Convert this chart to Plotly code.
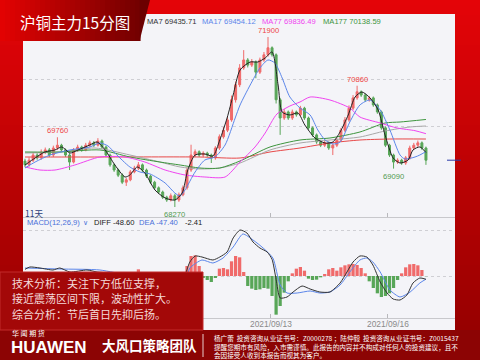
import plotly.graph_objects as go

# ---------------- data ----------------
bar_idx = list(range(100))
open_ = [69250,69170,69270,69380,69320,69440,69490,69380,69530,69590,
         69490,69380,69230,69490,69550,69490,69590,69640,69590,69680,
         69550,69380,69170,69060,68950,68800,68850,69020,69100,69170,
         69060,68930,68800,68680,68590,68480,68420,68510,68420,68530,
         68680,69060,69380,69450,69380,69420,69380,69320,69530,69770,
         69910,70130,70560,70880,71240,71410,71300,71370,71150,71410,
         71520,71670,71520,70560,70170,70300,70170,70300,70240,70380,
         70170,69960,69810,69660,69590,69640,69530,69590,69700,69910,
         70130,70380,70600,70730,70660,70560,70600,70450,70300,69960,
         69590,69380,69230,69270,69210,69320,69530,69590,69640,69530]
high = [69300,69330,69430,69420,69500,69540,69530,69580,69760,69620,
        69520,69420,69530,69600,69580,69640,69690,69680,69740,69710,
        69580,69410,69200,69090,68990,68890,69060,69150,69230,69200,
        69090,68960,68830,68710,68620,68510,68560,68550,68580,68730,
        69120,69600,69500,69480,69460,69450,69410,69570,69820,69980,
        70200,70650,70950,71320,71620,71450,71430,71400,71460,71580,
        71900,71700,71550,70600,70360,70330,70350,70330,70430,70410,
        70200,69990,69840,69690,69680,69670,69630,69740,69960,70190,
        70440,70660,70860,70760,70690,70640,70630,70480,70330,69990,
        69620,69410,69310,69300,69360,69580,69640,69690,69670,69560]
low = [69120,69130,69230,69280,69280,69400,69340,69340,69490,69450,
       69340,69060,69200,69450,69450,69460,69550,69550,69560,69510,
       69340,69130,69020,68910,68760,68720,68820,68990,69060,69020,
       68890,68760,68640,68550,68440,68380,68390,68270,68380,68500,
       68640,69020,69340,69340,69340,69340,69210,69280,69490,69730,
       69870,70090,70500,70830,71200,71250,71260,71020,71110,71370,
       71480,71480,70480,69810,70130,70130,70130,70200,70200,70130,
       69920,69770,69620,69550,69550,69490,69380,69550,69660,69870,
       70090,70340,70560,70620,70520,70520,70410,70260,69920,69550,
       69340,69090,69190,69170,69170,69280,69490,69550,69490,69170]
close = [69170,69270,69380,69320,69440,69490,69380,69530,69590,69490,
         69380,69230,69490,69550,69490,69590,69640,69590,69680,69550,
         69380,69170,69060,68950,68800,68850,69020,69100,69170,69060,
         68930,68800,68680,68590,68480,68420,68510,68420,68530,68680,
         69060,69380,69450,69380,69420,69380,69320,69530,69770,69910,
         70130,70560,70880,71240,71410,71300,71370,71150,71410,71520,
         71670,71520,70560,70170,70300,70170,70300,70240,70380,70170,
         69960,69810,69660,69590,69640,69530,69590,69700,69910,70130,
         70380,70600,70730,70660,70560,70600,70450,70300,69960,69590,
         69380,69230,69270,69210,69320,69530,69590,69640,69530,69270]

ma7_pos = [0,2.5,4.9,7.4,9.1,11.1,13.1,16.0,17.8,19.8,22.2,24.7,25.9,27.7,29.6,32.1,34.6,37.0,38.8,40.2,
           42.0,44.4,46.4,48.1,49.9,51.4,53.1,55.6,57.5,59.3,61.0,62.5,63.5,65.4,67.4,69.1,71.6,74.1,76.0,77.8,
           79.8,81.5,83.2,85.2,87.2,88.9,90.9,92.6,94.6,95.8,97.5,99]
ma7_val = [69167,69317,69445,69488,69552,69423,69488,69594,69658,69488,69167,68911,68954,69125,68996,68633,68463,68420,68569,69060,
           69381,69402,69359,69701,70171,70662,71196,71366,71366,71452,71580,70875,70299,70235,70277,70021,69744,69637,69658,69872,
           70235,70619,70726,70598,70342,69808,69317,69210,69274,69488,69552,69436]
ma17_pos = [0,2.5,6.2,11.1,16.0,18.5,20.5,22.2,25.9,28.4,30.9,34.6,37.0,38.3,39.5,42.0,44.4,46.9,49.4,51.9,
            53.1,55.6,58.0,60.0,61.7,63.5,65.4,67.9,70.4,72.3,74.1,76.0,77.8,80.2,82.7,85.2,87.7,90.1,92.6,93.8,
            96.3,97.5,99]
ma17_val = [69103,69231,69381,69488,69552,69637,69573,69423,69125,69018,68975,68783,68569,68505,68633,69018,69274,69338,69594,70171,
            70448,70875,71238,71409,71345,71025,70619,70384,70235,69915,69701,69616,69658,70085,70448,70555,70342,69915,69381,69295,
            69338,69381,69454]
ma77_pos = [0,3.7,7.4,12.3,18.5,24.7,29.6,34.6,39.5,44.4,49.4,53.1,56.8,59.3,62.2,65.4,67.9,70.4,75.3,80.2,82.7,87.7,91.9,96.3,99]
ma77_val = [69125,69060,69060,69167,69338,69338,69231,69060,68954,68911,68911,69231,69552,69850,70256,70427,70512,70619,70555,70384,
            70192,70064,69957,69900,69836]
ma177_pos = [0,8.6,18.5,25.9,33.3,38.3,43.2,48.1,53.1,60.5,67.9,75.3,82.7,88.9,92.6,99]
ma177_val = [69445,69445,69488,69338,69231,69167,69103,69103,69253,69552,69701,69744,69872,70064,70085,70139]
gray_pos = [0,8.6,17.3,25.9,33.3,38.3,43.2,48.1,53.1,60.5,67.9,75.3,82.7,88.9,95.1,99]
gray_val = [69423,69445,69530,69381,69231,69125,69082,69103,69210,69488,69637,69701,69765,69893,69979,70000]
red_pos = [0,18.5,43.2,53.1,60.5,67.9,75.3,82.7,90.1,99]
red_val = [69338,69338,69338,69317,69445,69530,69637,69701,69722,69722]

macd_hist = [20,30,10,-10,-20,10,20,30,40,20,
             -10,-30,-10,10,20,30,20,10,30,10,
             -20,-50,-80,-100,-110,-90,-60,-20,100,60,
             -40,-70,-100,-120,-110,-90,-60,-40,-20,60,
             150,300,310,150,-30,-60,-90,-30,110,120,
             100,220,300,280,60,-150,-190,-210,-200,-180,
             -190,-300,-580,-450,-250,-80,40,110,135,80,
             -40,-60,-55,-20,30,100,120,80,130,160,
             175,180,165,120,40,-80,-180,-260,-315,-300,
             -260,-180,-60,40,130,175,180,160,90,-2.41]
diff_pos = [0,1.2,3.7,6.9,8.6,11.1,15.3,17.8,20.2,23.5,27.2,30.9,34.6,37.8,38.8,39.8,40.7,42.0,43.7,46.4,
            48.1,49.9,51.4,53.1,54.8,56.3,58.0,59.8,61.0,62.0,63.0,64.7,66.2,68.4,70.4,72.8,75.3,77.8,79.5,81.0,
            82.7,84.4,85.9,87.7,89.4,90.9,92.6,94.3,95.8,97.5,99]
diff_val = [100,135,120,90,120,60,90,60,45,-60,-100,-180,-250,-230,-120,60,210,300,285,240,
            285,360,570,690,645,510,420,360,250,-50,-330,-315,-240,-150,-195,-240,-240,-105,60,210,
            300,285,165,-90,-255,-345,-360,-285,-105,-30,-48.6]
dea_pos = [0,8.6,18.5,25.9,33.3,38.3,39.8,40.7,43.7,46.4,48.9,51.4,53.8,56.3,58.8,61.2,63.0,64.7,67.2,70.4,
           72.8,75.3,77.8,80.2,82.7,84.4,85.9,87.7,90.1,92.6,95.1,97.5,99]
dea_val = [120,105,90,0,-150,-160,-40,120,240,195,270,435,630,540,420,270,-135,-255,-255,-225,
           -255,-240,-135,60,240,270,210,60,-210,-315,-240,-105,-47.4]

tick_pos = [60.7, 89.6]
tick_text = ["2021/09/13", "2021/09/16"]

legend_names = ["MA7", "MA17", "MA77", "MA177"]
legend_values = [69435.71, 69454.12, 69836.49, 70138.59]
macd_names = ["DIFF", "DEA"]
macd_values = [-48.60, -47.40, -2.41]

mark_idx = [60, 82, 8, 37, 91]
mark_val = [71900, 70860, 69760, 68270, 69090]
mark_kind = ["high", "high", "high", "low", "low"]

title_text = "沪铜主力15分图"
analysis_lines = ["技术分析：关注下方低位支撑，",
                  "接近震荡区间下限，波动性扩大。",
                  "综合分析：节后首日先抑后扬。"]
footer_lines = ["杨广蕾  投资咨询从业证书号：Z0000278 ；陆仲毅  投资咨询从业证书号：Z0015437",
                "提醒您期市有风险，入市需谨慎。此报告的内容并不构成对任何人的投资建议，且不",
                "会因接受人收到本报告而视其为客户。"]

# ---------------- style ----------------
W, H = 480, 360
RED = "#f06a6a"
GREEN = "#58a658"
C_MA = ["#222222", "#5b86ea", "#f044f0", "#3d953d"]
C_GRAY = "#a8a8a8"
C_REDMA = "#e84848"
CJK = "Noto Sans CJK SC"
LAT = "Liberation Sans"

def px(x):
    return x / W

def py(y):
    return 1 - y / H

def lerp(c1, c2, t):
    t = max(0.0, min(1.0, t))
    return "rgb(%d,%d,%d)" % tuple(round(a + (b - a) * t) for a, b in zip(c1, c2))

X0, X1 = 23, 455
MAIN_T, MAIN_B = 14, 217
MACD_T, MACD_B = 226, 318
xr = [(X0 - 25) / 4.05, (X1 - 25) / 4.05]

fig = go.Figure()

fig.add_trace(go.Candlestick(
    x=bar_idx, open=open_, high=high, low=low, close=close,
    increasing=dict(line=dict(color=RED, width=1), fillcolor=RED),
    decreasing=dict(line=dict(color=GREEN, width=1), fillcolor=GREEN),
    whiskerwidth=0, xaxis="x", yaxis="y", hoverinfo="skip"))

for pos, val, col in [(red_pos, red_val, C_REDMA), (gray_pos, gray_val, C_GRAY),
                      (ma177_pos, ma177_val, C_MA[3]), (ma77_pos, ma77_val, C_MA[2]),
                      (ma17_pos, ma17_val, C_MA[1]), (ma7_pos, ma7_val, C_MA[0])]:
    fig.add_trace(go.Scatter(x=pos, y=val, mode="lines",
                             line=dict(color=col, width=1, shape="spline", smoothing=0.7),
                             xaxis="x", yaxis="y", hoverinfo="skip"))

fig.add_trace(go.Bar(x=bar_idx, y=macd_hist, width=0.8,
                     marker=dict(color=[RED if v >= 0 else GREEN for v in macd_hist], line=dict(width=0)),
                     xaxis="x2", yaxis="y2", hoverinfo="skip"))
fig.add_trace(go.Scatter(x=dea_pos, y=dea_val, mode="lines",
                         line=dict(color="#5b86ea", width=1, shape="spline", smoothing=0.6),
                         xaxis="x2", yaxis="y2", hoverinfo="skip"))
fig.add_trace(go.Scatter(x=diff_pos, y=diff_val, mode="lines",
                         line=dict(color="#333333", width=1, shape="spline", smoothing=0.6),
                         xaxis="x2", yaxis="y2", hoverinfo="skip"))

# ---------------- decorations ----------------
shapes = []
for k in range(72):
    y0 = k * 5
    shapes.append(dict(type="rect", xref="paper", yref="paper", layer="below",
                       x0=0, x1=1, y0=py(y0 + 5.5), y1=py(y0),
                       fillcolor=lerp((228, 4, 8), (150, 0, 0), y0 / 330), line=dict(width=0)))
shapes.append(dict(type="rect", xref="paper", yref="paper", layer="below",
                   x0=0, x1=1, y0=0, y1=py(330), fillcolor="#8c0404", line=dict(width=0)))
shapes.append(dict(type="rect", xref="paper", yref="paper", layer="below",
                   x0=px(X0), x1=px(X1), y0=py(330), y1=py(MAIN_T),
                   fillcolor="#f4f4f8", line=dict(width=0)))
for k in range(28):
    shapes.append(dict(type="rect", xref="paper", yref="paper", layer="above",
                       x0=px(k * 5), x1=px(k * 5 + 5.6), y0=py(41), y1=1,
                       fillcolor=lerp((226, 2, 2), (112, 0, 0), k / 28), line=dict(width=0)))
shapes.append(dict(type="path", xref="paper", yref="paper", layer="above",
                   path="M %f %f L %f %f L %f %f Z" % (px(139.5), 1, px(150), 1, px(139.5), py(41)),
                   fillcolor="rgb(108,0,0)", line=dict(width=0)))
shapes.append(dict(type="rect", xref="paper", yref="paper", layer="above",
                   x0=0, x1=px(203), y0=py(330), y1=py(272),
                   fillcolor="#a30808", line=dict(color="#c22a2a", width=1)))
shapes.append(dict(type="line", xref="paper", yref="paper", layer="above",
                   x0=px(203), x1=px(203), y0=py(357), y1=py(334),
                   line=dict(color="rgba(255,255,255,0.8)", width=1)))
shapes.append(dict(type="line", xref="paper", yref="y", layer="above",
                   x0=px(447), x1=px(461), y0=close[-1], y1=close[-1],
                   line=dict(color="#2a3aa8", width=1)))

ann = []
def A(x, y, text, size, color, font=LAT, xanchor="left", **kw):
    ann.append(dict(xref="paper", yref="paper", x=px(x), y=py(y), text=text, showarrow=False,
                    xanchor=xanchor, yanchor="middle", font=dict(family=font, size=size, color=color), **kw))

A(75, 21.5, title_text, 15.5, "#ffffff", CJK, xanchor="center")
leg_x = [145, 200, 260, 321]
for nm, v, c, x in zip(legend_names, legend_values, C_MA, leg_x):
    A(x, 21, "%s %.2f" % (nm, v), 7.6, "#333333" if nm == "MA7" else c)
A(23, 213, "11天", 8.5, "#2c3e78", CJK)
A(25, 222.5, "MACD(12,26,9)", 7.6, "#4a70d8")
A(80.5, 222.5, "∨", 7, "#4a70d8")
A(92, 222.5, "%s %.2f" % (macd_names[0], macd_values[0]), 7.6, "#222222")
A(137, 222.5, "%s %.2f" % (macd_names[1], macd_values[1]), 7.6, "#4a70d8")
A(183, 222.5, "%.2f" % macd_values[2], 7.6, "#222222")

for i, v, kd in zip(mark_idx, mark_val, mark_kind):
    ann.append(dict(xref="x", yref="y", x=i, y=v, text=str(v), showarrow=False,
                    xanchor="center", yanchor="bottom" if kd == "high" else "top",
                    yshift=0 if kd == "high" else -1,
                    font=dict(family=LAT, size=7.6, color="#ee4444" if kd == "high" else "#4f9a4f")))

for tp, tt in zip(tick_pos, tick_text):
    ann.append(dict(xref="x2", yref="paper", x=tp, y=py(324), text=tt, showarrow=False,
                    xanchor="center", yanchor="middle",
                    font=dict(family=LAT, size=8.4, color="#8a8a8a")))

for j, t in enumerate(analysis_lines):
    A(11, 282.5 + j * 15.5, t, 11, "#f4dada", CJK, borderpad=0)

A(10, 333, "华 闻 期 货", 7, "#ffffff", CJK)
A(9, 347, "<b>HUAWEN</b>", 17, "#ffffff", LAT)
A(100, 345, "<b>大风口策略团队</b>", 13.5, "#ffffff", CJK)
A(212, 346.5, "<br>".join(footer_lines), 6.6, "#ffffff", CJK, align="left")

axis_common = dict(showgrid=False, zeroline=False, fixedrange=True)
fig.update_layout(
    width=W, height=H, margin=dict(l=0, r=0, t=0, b=0),
    paper_bgcolor="#c00000", plot_bgcolor="rgba(0,0,0,0)",
    showlegend=False,
    shapes=shapes, annotations=ann,
    xaxis=dict(domain=[px(X0), px(X1)], range=xr, showticklabels=False,
               showline=True, linecolor="#c8c8cc", linewidth=1,
               tickvals=tick_pos, ticks="inside", ticklen=4, tickcolor="#b8b8bc",
               rangeslider=dict(visible=False), anchor="y", **axis_common),
    yaxis=dict(domain=[py(MAIN_B), py(MAIN_T)], range=[72690 - 21.35 * MAIN_B, 72690 - 21.35 * MAIN_T],
               showticklabels=False, showgrid=True, gridcolor="#cfcfd4", griddash="dot", gridwidth=1,
               tickvals=[70000, 71000], zeroline=False, fixedrange=True, anchor="x"),
    xaxis2=dict(domain=[px(X0), px(X1)], range=xr, anchor="y2", showticklabels=False,
                showline=True, linecolor="#c8c8cc", linewidth=1,
                tickvals=tick_pos, ticks="inside", ticklen=4, tickcolor="#b8b8bc", **axis_common),
    yaxis2=dict(domain=[py(MACD_B), py(MACD_T)], range=[-(MACD_B - 276) * 15, (276 - MACD_T) * 15],
                showticklabels=False, showgrid=True, gridcolor="#cfcfd4", griddash="dot", gridwidth=1,
                tickvals=[0, 690], zeroline=False, fixedrange=True, anchor="x2"),
)

fig.write_html("out.html", config={"displayModeBar": False, "staticPlot": True})
